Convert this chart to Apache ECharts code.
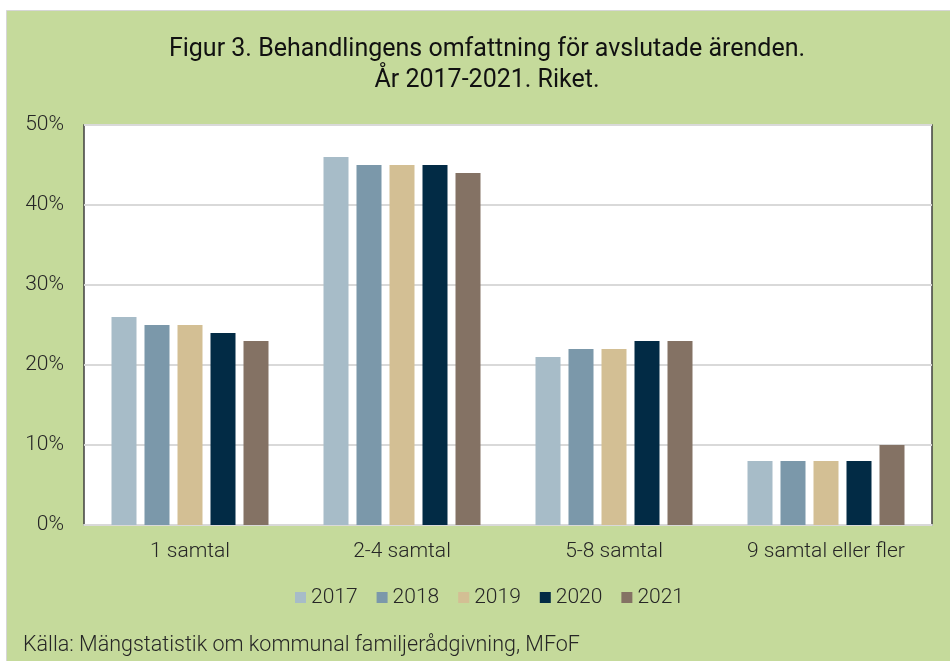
<!DOCTYPE html>
<html>
<head>
<meta charset="utf-8">
<script src="https://cdn.jsdelivr.net/npm/echarts@6/dist/echarts.min.js"></script>
<style>
  html, body { margin: 0; padding: 0; background: #fff; }
  #chart { width: 950px; height: 661px; }
</style>
</head>
<body>
<div id="chart"></div>
<script>
const categories = ['1 samtal', '2-4 samtal', '5-8 samtal', '9 samtal eller fler']
const years = ['2017', '2018', '2019', '2020', '2021']
const colors = ['#a7bcc8', '#7b98aa', '#d3bf94', '#022b45', '#847264']
const v2017 = [26, 46, 21, 8]
const v2018 = [25, 45, 22, 8]
const v2019 = [25, 45, 22, 8]
const v2020 = [24, 45, 23, 8]
const v2021 = [23, 44, 23, 10]
const values = [v2017, v2018, v2019, v2020, v2021]

const font = 'Roboto'
const textColor = '#262626'

const chart = echarts.init(document.getElementById('chart'))

chart.setOption({
  animation: false,
  textStyle: { fontFamily: font },
  graphic: [
    {
      type: 'rect',
      z: -10,
      shape: { x: 6.5, y: 10.5, width: 950, height: 660 },
      style: { fill: '#c5da9b', stroke: '#d6d6d6', lineWidth: 1 },
    },
    {
      // title as free text so it can sit a little right of centre like the original
      type: 'text',
      x: 487,
      y: 34,
      style: {
        text: 'Figur 3. Behandlingens omfattning för avslutade ärenden.\nÅr 2017-2021. Riket.',
        fill: '#111',
        font: '25px Roboto',
        lineHeight: 31,
        align: 'center',
      },
    },
    {
      type: 'text',
      left: 23,
      top: 635,
      style: { text: 'Källa: Mängstatistik om kommunal familjerådgivning, MFoF', fill: textColor, font: '300 21.5px Roboto' },
    },
  ],
  legend: {
    top: 582,
    left: 290,
    itemWidth: 11,
    itemHeight: 11,
    itemGap: 19,
    icon: 'rect',
    textStyle: { color: textColor, fontSize: 21, fontWeight: 300, fontFamily: font },
  },
  grid: {
    left: 84,
    right: 18,
    top: 125,
    bottom: 136,
    show: true,
    backgroundColor: '#fff',
    borderColor: '#404040',
    borderWidth: 1.5,
  },
  xAxis: {
    type: 'category',
    data: categories,
    axisLine: { lineStyle: { color: '#d9d9d9', width: 2 } },
    axisTick: { show: false },
    axisLabel: { color: textColor, fontSize: 21, fontWeight: 300, margin: 16 },
  },
  yAxis: {
    type: 'value',
    min: 0,
    max: 50,
    interval: 10,
    axisLabel: { color: textColor, fontSize: 21, fontWeight: 300, margin: 20, formatter: '{value}%' },
    splitLine: { lineStyle: { color: '#d9d9d9', width: 2 } },
    axisLine: { show: false },
  },
  series: years.map((y, i) => ({
    name: y,
    type: 'bar',
    data: values[i],
    barWidth: 25,
    barGap: '32%',
    itemStyle: { color: colors[i] },
  })),
})
</script>
</body>
</html>
